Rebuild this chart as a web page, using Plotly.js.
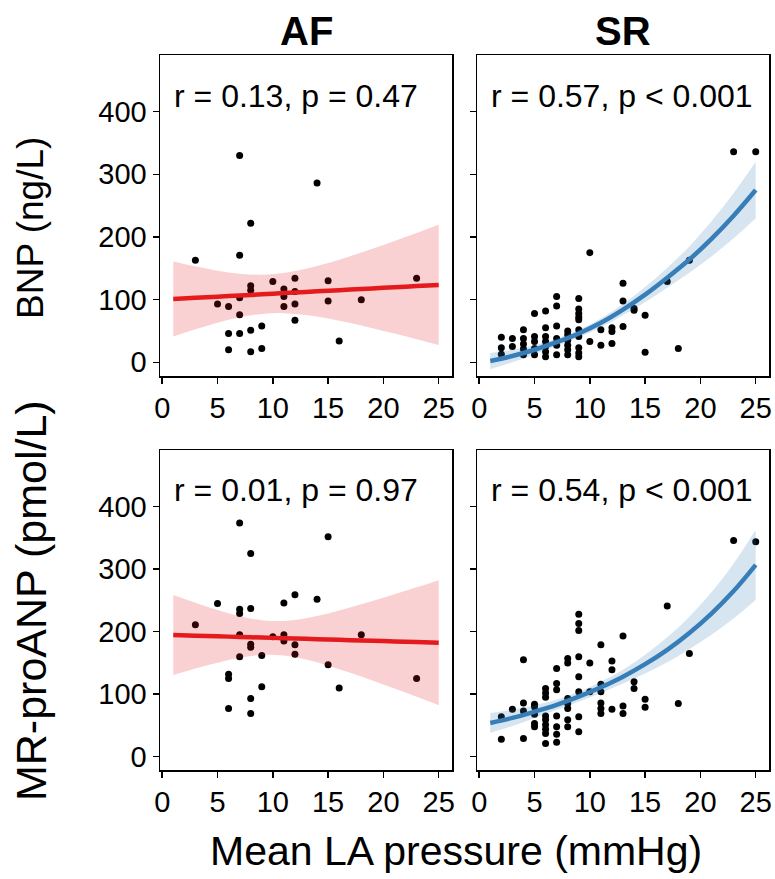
<!DOCTYPE html>
<html>
<head>
<meta charset="utf-8">
<script src="https://cdn.plot.ly/plotly-3.0.1.min.js"></script>
<style>html,body{margin:0;padding:0;background:#fff;}#chart{width:775px;height:879px;}</style>
</head>
<body>
<div id="chart"></div>
<script>
// ---- Data ----
const panelTitles = ["AF", "SR"];
const yTitles = ["BNP (ng/L)", "MR-proANP (pmol/L)"];
const xTitle = "Mean LA pressure (mmHg)";
const statLabels = ["r = 0.13, p = 0.47", "r = 0.57, p < 0.001", "r = 0.01, p = 0.97", "r = 0.54, p < 0.001"];
const xTicks = [0, 5, 10, 15, 20, 25];
const yTicks = [0, 100, 200, 300, 400];

// AF, BNP
const afBnpX = [3,7,8,8,10,12,11,11,12,7,15,23,5,6,11,12,15,18,7,12,9,6,7,8,16,6,8,9,7,14,8];
const afBnpY = [163,171,122,115,129,134,117,105,113,103,130,134,93,89,89,93,98,100,76,67,58,46,46,51,34,20,17,22,330,286,222];

// SR, BNP
const srBnpX = [2,2,2,3,3,4,4,4,4,4,5,5,5,5,5,6,6,6,6,6,6,6,7,7,7,7,7,7,8,8,8,8,8,8,9,9,9,9,9,9,9,9,9,9,10,10,11,11,12,12,12,13,13,13,14,14,15,15,17,18,19,23,25];
const srBnpY = [40,23,13,38,25,52,38,29,21,12,78,41,33,22,12,82,55,41,33,25,17,9,105,90,58,38,27,12,50,44,35,27,20,12,102,85,78,72,68,52,41,23,15,9,175,33,52,27,55,49,30,126,98,57,86,83,75,16,129,22,163,336,336];

// AF, MR-proANP
const afAnpX = [7,8,15,5,7,7,8,11,12,14,3,7,10,11,11,8,8,12,18,7,9,12,15,6,6,9,16,23,8,6,8];
const afAnpY = [374,325,352,245,236,229,237,246,259,252,211,195,192,195,185,180,175,179,195,160,162,164,147,132,125,112,110,125,93,77,69];

// SR, MR-proANP
const srAnpX = [2,2,3,4,4,4,4,5,5,5,5,5,6,6,6,6,6,6,6,6,6,7,7,7,7,7,7,7,8,8,8,8,8,8,8,9,9,9,9,9,9,9,9,10,10,11,11,11,11,11,11,12,12,12,13,13,13,14,14,15,15,17,18,19,23,25];
const srAnpY = [64,28,76,155,86,73,29,84,80,68,53,48,109,102,95,65,59,51,44,37,21,141,117,107,65,48,36,23,157,150,93,85,77,59,48,228,213,202,160,128,104,64,40,150,104,179,116,104,86,77,69,153,139,76,193,81,69,120,109,92,79,241,85,165,346,344];

// Fitted curves and confidence bands
const fitX = [1,3,5,7,9,11,13,15,17,19,21,23,25];
const afBnpFit = [101,102.9,104.8,106.6,108.5,110.4,112.3,114.1,116,117.9,119.8,121.6,123.5];
const afBnpUp  = [161,153.1,146.3,141.4,139.8,142.4,149.1,158.3,169.4,181.3,193.7,206.4,219.5];
const afBnpLo  = [41,52.7,63.3,71.8,77.2,78.4,75.5,69.9,62.6,54.5,45.9,36.8,27.5];
const srBnpFit = [2,10,20,32,46,63,84,108,135,164,197,234,275];
const srBnpUp  = [15,20,27,38,52,70,93,120,151,185,225,270,320];
const srBnpLo  = [-11,0,13,26,40,56,75,96,119,143,169,198,230];
const afAnpFit = [194.7,193.7,192.6,191.6,190.6,189.6,188.6,187.5,186.5,185.5,184.5,183.4,182.4];
const afAnpUp  = [258.7,246.3,234.7,224.9,218.4,217.3,221.7,229.3,238.8,249.2,260,271,282.3];
const afAnpLo  = [130.7,141.1,150.5,158.3,162.8,161.9,155.5,145.7,134.2,121.8,109,95.8,82.5];
const srAnpFit = [54,62,72,83,96,111,128,148,171,198,229,265,307];
const srAnpUp  = [70,75,82,91,104,120,139,163,191,224,263,309,363];
const srAnpLo  = [38,49,62,75,88,102,117,133,151,172,195,221,251];

// ---- Styles ----
const FONT = "Liberation Sans, Arial, Helvetica, sans-serif";
const RED = "rgb(228,26,28)", RED_BAND = "rgba(228,26,28,0.2)";
const BLUE = "rgb(55,126,184)", BLUE_BAND = "rgba(55,126,184,0.2)";

function panel(xs, ys, fit, up, lo, col, band, ax) {
  const xa = "x" + (ax === 1 ? "" : ax), ya = "y" + (ax === 1 ? "" : ax);
  return [
    {type: "scatter", mode: "markers", x: xs, y: ys, xaxis: xa, yaxis: ya,
     marker: {color: "black", size: 7}, hoverinfo: "x+y"},
    {type: "scatter", mode: "lines", x: fitX, y: lo, xaxis: xa, yaxis: ya,
     line: {width: 0, shape: "spline", smoothing: 1}, hoverinfo: "skip"},
    {type: "scatter", mode: "lines", x: fitX, y: up, xaxis: xa, yaxis: ya,
     fill: "tonexty", fillcolor: band, line: {width: 0, shape: "spline", smoothing: 1}, hoverinfo: "skip"},
    {type: "scatter", mode: "lines", x: fitX, y: fit, xaxis: xa, yaxis: ya,
     line: {color: col, width: 4.5, shape: "spline"}, hoverinfo: "skip"}
  ];
}

const data = [].concat(
  panel(afBnpX, afBnpY, afBnpFit, afBnpUp, afBnpLo, RED, RED_BAND, 1),
  panel(srBnpX, srBnpY, srBnpFit, srBnpUp, srBnpLo, BLUE, BLUE_BAND, 2),
  panel(afAnpX, afAnpY, afAnpFit, afAnpUp, afAnpLo, RED, RED_BAND, 3),
  panel(srAnpX, srAnpY, srAnpFit, srAnpUp, srAnpLo, BLUE, BLUE_BAND, 4)
);

const W = 775, H = 879;
const xDomL = [160 / W, 452 / W], xDomR = [477 / W, 769 / W];
const yDomT = [1 - 376 / H, 1 - 55 / H], yDomB = [1 - 770 / H, 1 - 450 / H];

function xax(dom, anchor) {
  return {domain: dom, anchor: anchor, range: [-0.2, 26.2], tickmode: "array", tickvals: xTicks,
    ticks: "outside", ticklen: 6, tickwidth: 1.5, tickcolor: "black",
    showline: true, mirror: true, linecolor: "black", linewidth: 1.5,
    showgrid: false, zeroline: false, tickfont: {family: FONT, size: 29, color: "black"}};
}
function yax(dom, anchor, rng, showLabels) {
  return {domain: dom, anchor: anchor, range: rng, tickmode: "array", tickvals: yTicks,
    ticks: "outside", ticklen: 6, tickwidth: 1.5, tickcolor: "black",
    showticklabels: showLabels,
    showline: true, mirror: true, linecolor: "black", linewidth: 1.5,
    showgrid: false, zeroline: false, tickfont: {family: FONT, size: 29, color: "black"}};
}

const ann = [];
function addAnn(text, xpx, ypx, size, opts) {
  ann.push(Object.assign({text: text, xref: "paper", yref: "paper", x: xpx / W, y: 1 - ypx / H,
    showarrow: false, font: {family: FONT, size: size, color: "black"},
    xanchor: "center", yanchor: "middle"}, opts || {}));
}
addAnn("<b>" + panelTitles[0] + "</b>", 306, 31, 40);
addAnn("<b>" + panelTitles[1] + "</b>", 623, 31, 40);
addAnn(statLabels[0], 172, 96, 32, {xanchor: "left"});
addAnn(statLabels[1], 489, 96, 32, {xanchor: "left"});
addAnn(statLabels[2], 172, 490, 32, {xanchor: "left"});
addAnn(statLabels[3], 489, 490, 32, {xanchor: "left"});
addAnn(yTitles[0], 31, 228, 37, {textangle: -90});
addAnn(yTitles[1], 31, 601, 43, {textangle: -90});
addAnn(xTitle, 456, 851, 41);

const layout = {
  width: W, height: H, margin: {l: 0, r: 0, t: 0, b: 0},
  paper_bgcolor: "white", plot_bgcolor: "white", showlegend: false,
  font: {family: FONT, color: "black"},
  xaxis: xax(xDomL, "y"), yaxis: yax(yDomT, "x", [-21.9, 490.5], true),
  xaxis2: xax(xDomR, "y2"), yaxis2: yax(yDomT, "x2", [-21.9, 490.5], false),
  xaxis3: xax(xDomL, "y3"), yaxis3: yax(yDomB, "x3", [-21.3, 490.7], true),
  xaxis4: xax(xDomR, "y4"), yaxis4: yax(yDomB, "x4", [-21.3, 490.7], false),
  annotations: ann
};

Plotly.newPlot("chart", data, layout, {staticPlot: true, displayModeBar: false});
</script>
</body>
</html>
